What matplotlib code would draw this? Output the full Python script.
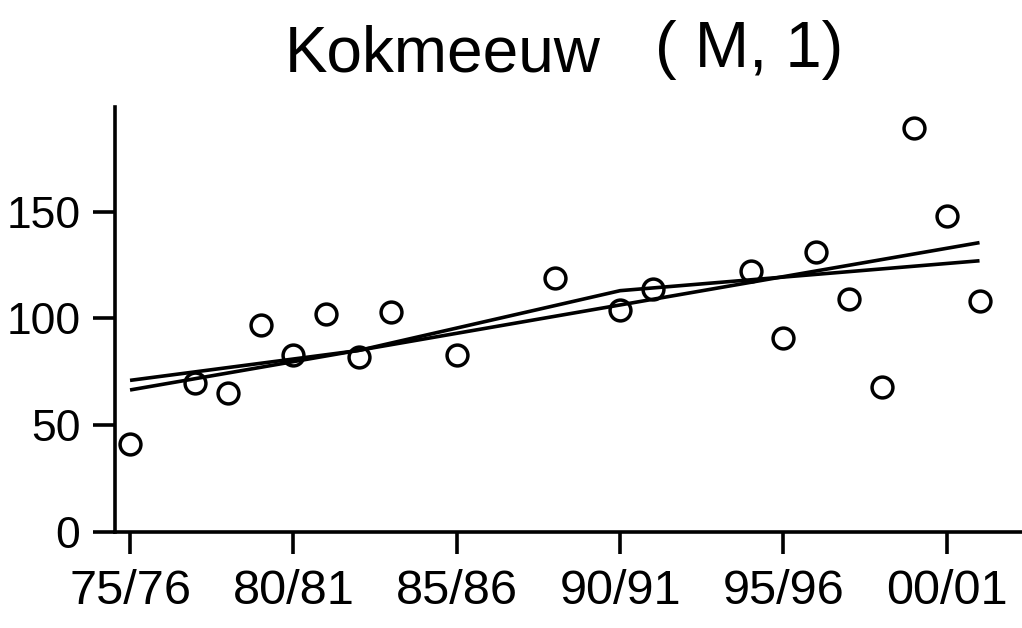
import numpy as np
import matplotlib
matplotlib.use("Agg")
import matplotlib.pyplot as plt

# seasons since 75/76 (0 = 75/76)
years = [0, 2, 3, 4, 5, 6, 7, 8, 10, 13, 15, 16, 19, 20, 21, 22, 23, 24, 25, 26]
counts = [41, 70, 65, 97, 83, 102, 82, 103, 83, 119, 104, 114, 122, 91, 131, 109, 68, 189, 148, 108]

# linear trend and piecewise trend
trend_x = [0, 26]
trend_y = [66.5, 135.5]
piece_x = [0, 7, 15, 26]
piece_y = [71, 85, 113, 127]

tick_pos = [0, 5, 10, 15, 20, 25]
tick_lab = ['75/76', '80/81', '85/86', '90/91', '95/96', '00/01']

font = ['Liberation Sans', 'DejaVu Sans']
plt.rcParams['font.family'] = font

fig = plt.figure(figsize=(10.22, 6.28), dpi=100)
ax = fig.add_axes([115/1022, 1 - 532/628, 1 - 115/1022, (532 - 107)/628])

# open circles, the trend lines show through them
ax.plot(years, counts, 'o', ms=15, mfc='none', mec='black', mew=2.5)
ax.plot(trend_x, trend_y, color='black', lw=2.6, solid_capstyle='butt')
ax.plot(piece_x, piece_y, color='black', lw=2.6, solid_capstyle='butt')

ax.set_xlim(-0.46, 27.3)
ax.set_ylim(0, 199)
ax.set_xticks(tick_pos)
ax.set_xticklabels(tick_lab)
ax.set_yticks([0, 50, 100, 150])

for s in ['top', 'right']:
    ax.spines[s].set_visible(False)
for s in ['left', 'bottom']:
    ax.spines[s].set_linewidth(2.6)

ax.tick_params(length=16, width=2.6, direction='out')
ax.tick_params(axis='x', pad=11, labelsize=35)
ax.tick_params(axis='y', pad=9, labelsize=32)

fig.text(285/1022, 1 - 72/628, 'Kokmeeuw', fontsize=46,
         ha='left', va='baseline')
fig.text(655/1022, 1 - 67/628, '( M, 1)', fontsize=47,
         ha='left', va='baseline')

fig.savefig('out.png', dpi=100)
